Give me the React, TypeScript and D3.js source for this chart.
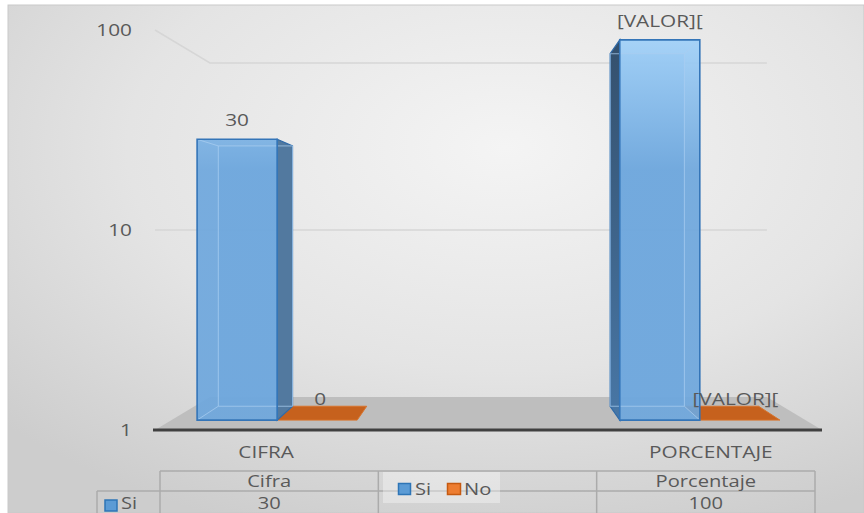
import React from "react";
import * as d3 from "d3";

const categories = ["Cifra", "", "Porcentaje"];
const seriesNames = ["Si", "No"];
const siValues: (number | null)[] = [30, null, 100];
const noValues: (number | null)[] = [0, null, 0];
const siLabels = ["30", "", "[VALOR]["];
const noLabels = ["0", "", "[VALOR]["];
const tableSi = ["30", "", "100"];
const yTicks = [1, 10, 100];

const W = 864, H = 513;
const VX = 488, VY = 230, DEPTH = 0.165;
const Z0 = 0.3, Z1 = 0.72;
const SX = 1.3;
const FONT = "'Open Sans', sans-serif";
const TXT = "#595959";

function proj(X: number, Y: number, z: number): [number, number] {
  const s = 1 - DEPTH * z;
  return [VX + (X - VX) * s, VY + (Y - VY) * s];
}
const pts = (arr: [number, number][]) => arr.map((p) => p.join(",")).join(" ");

function T({ x, y, anchor = "middle", size = 16, fill = TXT, children }: any) {
  return (
    <text
      transform={`translate(${x},${y}) scale(${SX},1)`}
      textAnchor={anchor}
      fontFamily={FONT}
      fontSize={size}
      fill={fill}
    >
      {children}
    </text>
  );
}

export default function App() {
  const y = d3.scaleLog().domain([1, 100]).range([430, 30]);
  const x = d3.scaleBand<string>().domain(categories).range([155, 822]);
  const xs = d3
    .scaleBand<string>()
    .domain(seriesNames)
    .range([0, x.bandwidth()])
    .paddingInner(0)
    .paddingOuter(0.32);
  const tx = d3.scaleBand<string>().domain(categories).range([160, 815]);
  const values: Record<string, (number | null)[]> = { Si: siValues, No: noValues };
  const labels: Record<string, string[]> = { Si: siLabels, No: noLabels };

  const X0p = 155, X1p = 822;
  const floor: [number, number][] = [
    proj(X0p, y(1), 0),
    proj(X1p, y(1), 0),
    proj(X1p, y(1), 1),
    proj(X0p, y(1), 1),
  ];

  const grid = yTicks.filter((t) => t > 1).map((t) => {
    const a = proj(X0p, y(t), 0), b = proj(X0p, y(t), 1), c = proj(X1p, y(t), 1);
    return { t, d: `M${a[0]},${a[1]}L${b[0]},${b[1]}L${c[0]},${c[1]}` };
  });

  const bars: any[] = [];
  const dataLabels: any[] = [];
  categories.forEach((cat, i) => {
    ["No", "Si"].forEach((s) => {
      const v = values[s][i];
      if (v === null || v === undefined) return;
      const X0 = (x(cat) as number) + (xs(s) as number);
      const X1 = X0 + xs.bandwidth();
      const Yt = y(Math.max(v, 1));
      const Yb = y(1);
      const FTL = proj(X0, Yt, Z0), FTR = proj(X1, Yt, Z0), FBR = proj(X1, Yb, Z0), FBL = proj(X0, Yb, Z0);
      const BTL = proj(X0, Yt, Z1), BTR = proj(X1, Yt, Z1), BBR = proj(X1, Yb, Z1), BBL = proj(X0, Yb, Z1);
      const key = `${cat}-${s}`;
      if (Yt === Yb) {
        bars.push(
          <polygon key={key} points={pts([FBL, FBR, BBR, BBL])} fill="#c6611d" stroke="#d8742c" strokeWidth={1} />
        );
        const c = proj((X0 + X1) / 2, Yb, 0.4);
        dataLabels.push(<T key={key} x={c[0]} y={c[1] - 12}>{labels[s][i]}</T>);
      } else {
        const leftOfV = (X0 + X1) / 2 < VX;
        const side = leftOfV ? [FTR, BTR, BBR, FBR] : [FTL, BTL, BBL, FBL];
        const hidden = [
          [BTL, BTR], [BTR, BBR], [BBR, BBL], [BBL, BTL],
          leftOfV ? [FTL, BTL] : [FTR, BTR],
          leftOfV ? [FBL, BBL] : [FBR, BBR],
        ];
        bars.push(
          <g key={key}>
            <polygon points={pts([BTL, BTR, BBR, BBL])} fill="#6aa3da" fillOpacity={0.5} />
            <polygon
              points={pts(side as any)}
              fill={leftOfV ? "#52799f" : "url(#sideGrad)"}
              stroke="#2f6aa8"
              strokeWidth={1.2}
            />
            <polygon points={pts([FTL, FTR, FBR, FBL])} fill="url(#siGrad)" fillOpacity={0.92} />
            {hidden.map((e, k) => (
              <line
                key={k}
                x1={e[0][0]} y1={e[0][1]} x2={e[1][0]} y2={e[1][1]}
                stroke="#a9cdf0" strokeOpacity={0.75} strokeWidth={1}
              />
            ))}
            <polygon points={pts([FTL, FTR, FBR, FBL])} fill="none" stroke="#3475b8" strokeWidth={1.6} />
          </g>
        );
        dataLabels.push(
          <T key={key} x={(FTL[0] + FTR[0]) / 2} y={FTL[1] - 13}>{labels[s][i]}</T>
        );
      }
    });
  });

  const tBounds = [...categories.map((c) => tx(c) as number), 815];

  return (
    <svg
      width={W}
      height={H}
      style={{ position: "absolute", left: 0, top: 0, display: "block" }}
    >
      <defs>
        <radialGradient id="bg" cx="58%" cy="28%" r="80%">
          <stop offset="0%" stopColor="#f4f4f4" />
          <stop offset="55%" stopColor="#e4e4e4" />
          <stop offset="100%" stopColor="#cdcdcd" />
        </radialGradient>
        <linearGradient id="siGrad" gradientUnits="userSpaceOnUse" x1="0" y1="40" x2="0" y2="170">
          <stop offset="0%" stopColor="#a0d0f8" />
          <stop offset="100%" stopColor="#6ea7dd" />
        </linearGradient>
        <linearGradient id="sideGrad" gradientUnits="userSpaceOnUse" x1="0" y1="40" x2="0" y2="420">
          <stop offset="0%" stopColor="#34506d" />
          <stop offset="100%" stopColor="#4877a6" />
        </linearGradient>
      </defs>
      <rect x={0} y={0} width={W} height={H} fill="#ffffff" />
      <rect x={8} y={5} width={W - 8} height={H - 5} fill="url(#bg)" stroke="#c9c9c9" strokeWidth={1} />

      <polygon points={pts(floor)} fill="#bebebe" />
      {grid.map((g) => (
        <path key={g.t} d={g.d} fill="none" stroke="#d6d6d6" strokeWidth={1.5} />
      ))}

      {bars}

      <line x1={153} y1={y(1)} x2={822} y2={y(1)} stroke="#404040" strokeWidth={3} />

      {yTicks.map((t) => (
        <T key={t} x={132} y={y(t) + 6} anchor="end">{String(t)}</T>
      ))}

      {categories.map((c) =>
        c ? (
          <T key={c} x={(x(c) as number) + x.bandwidth() / 2} y={458}>{c.toUpperCase()}</T>
        ) : null
      )}

      {dataLabels}

      {/* data table */}
      <g stroke="#ababab" strokeWidth={1.5}>
        <line x1={160} y1={471} x2={815} y2={471} />
        <line x1={97} y1={491} x2={815} y2={491} />
        {tBounds.map((b, k) => (
          <line key={k} x1={b} y1={471} x2={b} y2={H} />
        ))}
        <line x1={97} y1={491} x2={97} y2={H} />
      </g>
      {categories.map((c) =>
        c ? (
          <T key={c} x={(tx(c) as number) + tx.bandwidth() / 2} y={487} size={15.5}>{c}</T>
        ) : null
      )}
      {categories.map((c, i) =>
        tableSi[i] ? (
          <T key={c + "si"} x={(tx(c) as number) + tx.bandwidth() / 2} y={509} size={15.5}>{tableSi[i]}</T>
        ) : null
      )}
      <rect x={105} y={500} width={12} height={11} fill="#5b9bd5" stroke="#2e75b6" strokeWidth={1.5} />
      <T x={121} y={509} anchor="start" size={15.5}>Si</T>

      {/* legend */}
      <rect x={383} y={472} width={117} height={31} fill="#ffffff" fillOpacity={0.35} />
      <rect x={398.5} y={483.5} width={12} height={11} fill="#5b9bd5" stroke="#2e75b6" strokeWidth={1.5} />
      <T x={415} y={495} anchor="start" size={15.5}>Si</T>
      <rect x={447.5} y={483.5} width={13} height={11} fill="#ed7d31" stroke="#c55a11" strokeWidth={1.5} />
      <T x={464} y={495} anchor="start" size={15.5}>No</T>
    </svg>
  );
}
